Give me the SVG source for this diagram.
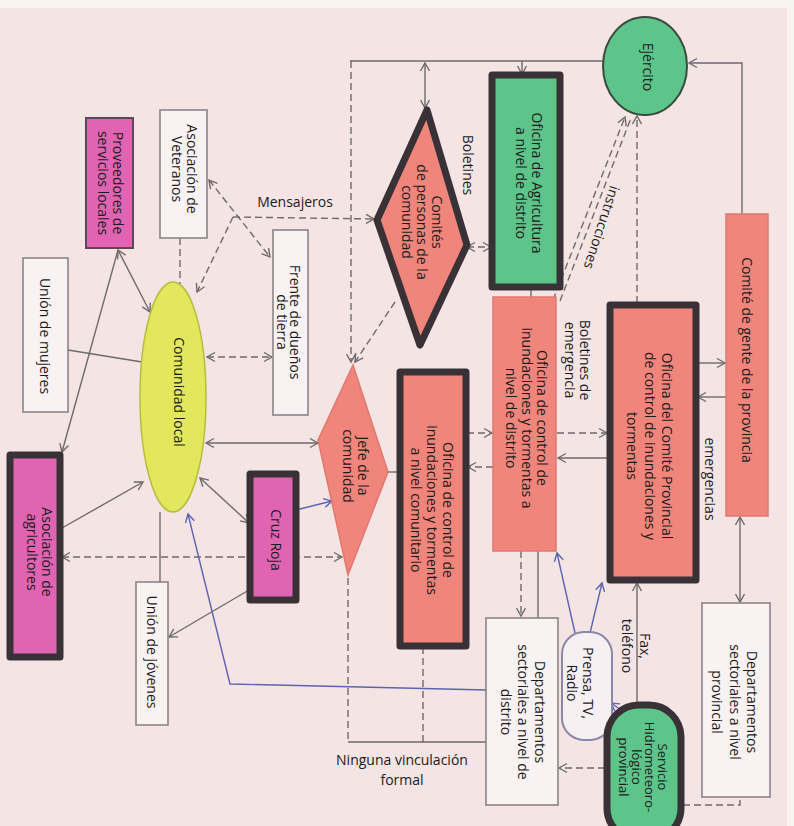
<svg xmlns="http://www.w3.org/2000/svg" width="794" height="826" viewBox="0 0 794 826">
<style>
.t{font-family:"Open Sans","Noto Sans","DejaVu Sans",sans-serif;font-size:14px;fill:#1c1a1b;text-anchor:middle}
.s13{font-size:13px}
.wbox{fill:#f8f2f2;stroke:#8a8486;stroke-width:1.6}
.mag{fill:#e064b2}
.sal{fill:#f0857c}
.grn{fill:#5dc48a}
.yel{fill:#e3e75c;stroke:#b8bc40;stroke-width:1.5}
.thick{stroke:#383236;stroke-width:7;stroke-linejoin:round}
.thin{stroke:#e07870;stroke-width:1.5}
.ln{fill:none;stroke:#6e6a6c;stroke-width:1.4}
.dash{stroke-dasharray:7 4}
.blue{stroke:#5a64b0}
</style>
<defs>
<marker id="a" markerUnits="userSpaceOnUse" markerWidth="12" markerHeight="12" refX="10" refY="6" orient="auto-start-reverse"><path d="M2,1.5 L10,6 L2,10.5" fill="none" stroke="#6e6a6c" stroke-width="1.4"/></marker>
<marker id="b" markerUnits="userSpaceOnUse" markerWidth="12" markerHeight="12" refX="10" refY="6" orient="auto-start-reverse"><path d="M2,1.5 L10,6 L2,10.5" fill="none" stroke="#5a64b0" stroke-width="1.4"/></marker>
</defs>
<rect x="0" y="0" width="794" height="826" fill="#f8f5ef"/>
<rect x="0" y="8" width="787" height="818" fill="#f4e4e4"/>

<g id="connectors">
<path class="ln" d="M350,61 L603,61"/>
<path class="ln" d="M742,214 L742,63 L689,63" marker-end="url(#a)"/>
<path class="ln dash" d="M351,61 L351,362" marker-end="url(#a)"/>
<path class="ln dash" d="M348,578 L348,742"/>
<path class="ln" d="M348,742 L486,742"/>
<path class="ln dash" d="M423,647 L423,742"/>
<path class="ln" d="M425,63 L425,108" marker-start="url(#a)" marker-end="url(#a)"/>
<path class="ln" d="M522,61 L522,74" marker-end="url(#a)"/>
<path class="ln dash" d="M233,217 L374,219" marker-end="url(#a)"/>
<path class="ln dash" d="M233,217 L197,292" marker-end="url(#a)"/>
<path class="ln dash" d="M209,180 L270,257" marker-start="url(#a)" marker-end="url(#a)"/>
<path class="ln dash" d="M180,238 L180,284"/>
<path class="ln" d="M118,250 L150,312" marker-start="url(#a)" marker-end="url(#a)"/>
<path class="ln" d="M118,250 L62,452" marker-end="url(#a)"/>
<path class="ln" d="M68,350 L142,362"/>
<path class="ln dash" d="M207,357 L272,357" marker-start="url(#a)" marker-end="url(#a)"/>
<path class="ln" d="M206,443 L318,443" marker-start="url(#a)" marker-end="url(#a)"/>
<path class="ln" d="M62,528 L143,482" marker-end="url(#a)"/>
<path class="ln dash" d="M62,557 L342,557" marker-start="url(#a)" marker-end="url(#a)"/>
<path class="ln" d="M200,478 L249,523" marker-start="url(#a)" marker-end="url(#a)"/>
<path class="ln" d="M160,512 L160,582"/>
<path class="ln" d="M249,590 L169,637" marker-end="url(#a)"/>
<path class="ln blue" d="M296,510 L332,501" marker-end="url(#b)"/>
<path class="ln blue" d="M487,690 L230,684 L188,514" marker-end="url(#b)"/>
<path class="ln" d="M388,472 L400,472"/>
<path class="ln dash" d="M467,433 L492,433" marker-end="url(#a)"/>
<path class="ln dash" d="M493,467 L468,467" marker-end="url(#a)"/>
<path class="ln dash" d="M557,433 L607,433" marker-end="url(#a)"/>
<path class="ln" d="M608,458 L558,458" marker-end="url(#a)"/>
<path class="ln" d="M697,363 L725,363" marker-end="url(#a)"/>
<path class="ln" d="M726,397 L698,397" marker-end="url(#a)"/>
<path class="ln" d="M740,517 L740,602" marker-start="url(#a)" marker-end="url(#a)"/>
<path class="ln" d="M637,705 L637,583" marker-end="url(#a)"/>
<path class="ln blue" d="M575,633 L557,553" marker-end="url(#b)"/>
<path class="ln blue" d="M590,633 L602,583" marker-end="url(#b)"/>
<path class="ln blue" d="M624,712 L611,703" marker-end="url(#b)"/>
<path class="ln dash" d="M605,768 L559,768" marker-end="url(#a)"/>
<path class="ln dash" d="M683,805 L740,805 L740,797"/>
<path class="ln dash" d="M521,551 L521,616" marker-end="url(#a)"/>
<path class="ln" d="M538,551 L538,618"/>
<path class="ln dash" d="M553,300 L625,117" marker-end="url(#a)"/>
<path class="ln dash" d="M560,301 L631,118"/>
<path class="ln dash" d="M637,303 L637,116" marker-end="url(#a)"/>
<path class="ln dash" d="M467,247 L491,247" marker-start="url(#a)" marker-end="url(#a)"/>
<path class="ln dash" d="M395,302 L355,362" marker-end="url(#a)"/>
<path class="ln" d="M531,288 L531,297"/>
</g>

<g id="proveedores">
<rect class="mag" x="86" y="118" width="47" height="130" stroke="#5a4a55" stroke-width="2"/>
<text class="t" transform="translate(113,183) rotate(90)"><tspan x="0" y="0">Proveedores de</tspan><tspan x="0" dy="15">servicios locales</tspan></text>
</g>
<g id="veteranos">
<rect class="wbox" x="160" y="110" width="47" height="128"/>
<text class="t" transform="translate(187,169) rotate(90)"><tspan x="0" y="0">Asociación de</tspan><tspan x="0" dy="15">Veteranos</tspan></text>
</g>
<g id="mujeres">
<rect class="wbox" x="23" y="258" width="45" height="154"/>
<text class="t" transform="translate(40,336) rotate(90)">Unión de mujeres</text>
</g>
<g id="comunidad">
<ellipse class="yel" cx="173" cy="397" rx="33" ry="115"/>
<text class="t" transform="translate(174,392) rotate(90)">Comunidad local</text>
</g>
<g id="frente">
<rect class="wbox" x="273" y="230" width="35" height="185"/>
<text class="t" transform="translate(290,322) rotate(90)"><tspan x="0" y="0">Frente de dueños</tspan><tspan x="0" dy="13">de tierra</tspan></text>
</g>
<g id="comites">
<polygon class="sal thick" points="427,110 467,245 420,345 377,220"/>
<text class="t" transform="translate(432,222) rotate(90)"><tspan x="0" y="0">Comités</tspan><tspan x="0" dy="15">de personas de la</tspan><tspan x="0" dy="15">comunidad</tspan></text>
</g>
<g id="agricultura">
<rect class="grn thick" x="492" y="75" width="68" height="212"/>
<text class="t" transform="translate(532,183) rotate(90)"><tspan x="0" y="0">Oficina de Agricultura</tspan><tspan x="0" dy="16">a nivel de distrito</tspan></text>
</g>
<g id="ejercito">
<ellipse class="grn" cx="645" cy="66" rx="42" ry="49" stroke="#3a4a40" stroke-width="2"/>
<text class="t" transform="translate(643,67) rotate(90)">Ejército</text>
</g>
<g id="comite-provincia">
<rect class="sal thin" x="726" y="214" width="42" height="302"/>
<text class="t" transform="translate(742,360) rotate(90)">Comité de gente de la provincia</text>
</g>
<g id="oficina-provincial">
<rect class="sal thick" x="610" y="305" width="86" height="275"/>
<text class="t" transform="translate(662,446) rotate(90)"><tspan x="0" y="0">Oficina del Comité Provincial</tspan><tspan x="0" dy="17.5">de control de inundaciones y</tspan><tspan x="0" dy="17.5">tormentas</tspan></text>
</g>
<g id="oficina-distrito">
<rect class="sal thin" x="493" y="297" width="63" height="254"/>
<text class="t" transform="translate(537,418) rotate(90)"><tspan x="0" y="0">Oficina de control de</tspan><tspan x="0" dy="15.5">inundaciones y tormentas a</tspan><tspan x="0" dy="15.5">nivel de distrito</tspan></text>
</g>
<g id="jefe">
<polygon class="sal thin" points="353,365 388,472 348,575 318,440"/>
<text class="t" transform="translate(358,466) rotate(90)"><tspan x="0" y="0">Jefe de la</tspan><tspan x="0" dy="15.5">comunidad</tspan></text>
</g>
<g id="oficina-comunitario">
<rect class="sal thick" x="400" y="372" width="66" height="274"/>
<text class="t" transform="translate(443,510) rotate(90)"><tspan x="0" y="0">Oficina de control de</tspan><tspan x="0" dy="16">inundaciones y tormentas</tspan><tspan x="0" dy="16">a nivel comunitario</tspan></text>
</g>
<g id="cruz-roja">
<rect class="mag thick" x="250" y="474" width="46" height="126"/>
<text class="t" transform="translate(271,540) rotate(90)">Cruz Roja</text>
</g>
<g id="agricultores">
<rect class="mag thick" x="10" y="455" width="50" height="202"/>
<text class="t" transform="translate(42,552) rotate(90)"><tspan x="0" y="0">Asociación de</tspan><tspan x="0" dy="15">agricultores</tspan></text>
</g>
<g id="jovenes">
<rect class="wbox" x="136" y="582" width="32" height="143"/>
<text class="t" transform="translate(147,652) rotate(90)">Unión de jóvenes</text>
</g>
<g id="dept-distrito">
<rect class="wbox" x="486" y="618" width="72" height="187"/>
<text class="t" transform="translate(535,712) rotate(90)"><tspan x="0" y="0">Departamentos</tspan><tspan x="0" dy="17">sectoriales a nivel de</tspan><tspan x="0" dy="17">distrito</tspan></text>
</g>
<g id="prensa">
<rect x="562" y="632" width="50" height="108" rx="22" fill="#f6f0f2" stroke="#8a88a8" stroke-width="2"/>
<text class="t" transform="translate(583,683) rotate(90)"><tspan x="0" y="0">Prensa, TV,</tspan><tspan x="0" dy="16">Radio</tspan></text>
</g>
<g id="servicio">
<rect class="grn thick" x="607" y="705" width="74" height="135" rx="32"/>
<text class="t s13" transform="translate(658,767) rotate(90)"><tspan x="0" y="0">Servicio</tspan><tspan x="0" dy="13">Hidrometeoro-</tspan><tspan x="0" dy="13">lógico</tspan><tspan x="0" dy="13">provincial</tspan></text>
</g>
<g id="dept-provincial">
<rect class="wbox" x="702" y="603" width="68" height="194"/>
<text class="t" transform="translate(747,702) rotate(90)"><tspan x="0" y="0">Departamentos</tspan><tspan x="0" dy="17.5">sectoriales a nivel</tspan><tspan x="0" dy="17.5">provincial</tspan></text>
</g>

<g id="labels">
<text class="t" x="295" y="207">Mensajeros</text>
<text class="t" transform="translate(463,165) rotate(90)">Boletines</text>
<text class="t" transform="translate(597,226) rotate(108)">instrucciones</text>
<text class="t" transform="translate(580,360) rotate(90)"><tspan x="0" y="0">Boletines de</tspan><tspan x="0" dy="15">emergencia</tspan></text>
<text class="t" transform="translate(705,479) rotate(90)">emergencias</text>
<text class="t" transform="translate(640,646) rotate(90)"><tspan x="0" y="0">Fax,</tspan><tspan x="0" dy="18">teléfono</tspan></text>
<text class="t" x="402" y="765">Ninguna vinculación</text>
<text class="t" x="402" y="785">formal</text>
</g>
</svg>
